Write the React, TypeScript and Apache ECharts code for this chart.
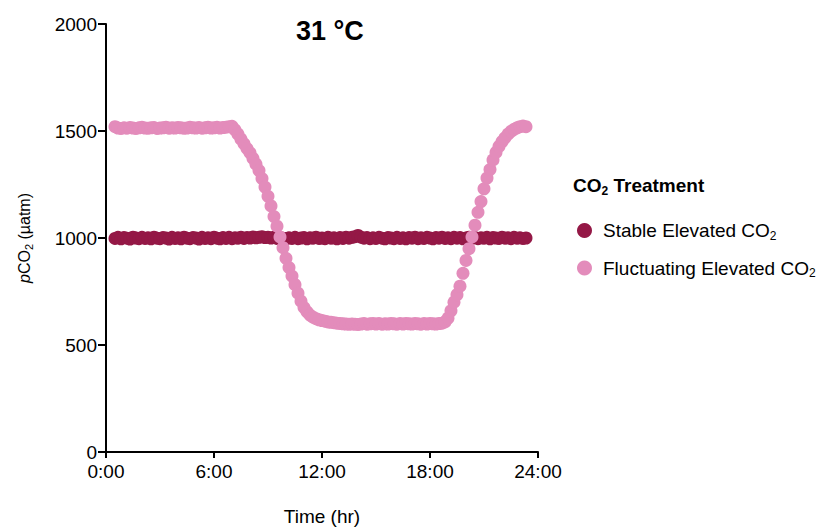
import React, { useEffect, useRef } from "react";
import * as echarts from "echarts";

// Sampling times in minutes after 0:00 (10-min logging)
const minutes: number[] = [
  30, 40, 50,
  60, 70, 80, 90, 100, 110,
  120, 130, 140, 150, 160, 170,
  180, 190, 200, 210, 220, 230,
  240, 250, 260, 270, 280, 290,
  300, 310, 320, 330, 340, 350,
  360, 370, 380, 390, 400, 410,
  420, 430, 440, 450, 460, 470,
  480, 490, 500, 510, 520, 530,
  540, 550, 560, 570, 580, 590,
  600, 610, 620, 630, 640, 650,
  660, 670, 680, 690, 700, 710,
  720, 730, 740, 750, 760, 770,
  780, 790, 800, 810, 820, 830,
  840, 850, 860, 870, 880, 890,
  900, 910, 920, 930, 940, 950,
  960, 970, 980, 990, 1000, 1010,
  1020, 1030, 1040, 1050, 1060, 1070,
  1080, 1090, 1100, 1110, 1120, 1130,
  1140, 1150, 1160, 1170, 1180, 1190,
  1200, 1210, 1220, 1230, 1240, 1250,
  1260, 1270, 1280, 1290, 1300, 1310,
  1320, 1330, 1340, 1350, 1360, 1370,
  1380, 1390, 1400,
];

const stableCO2: number[] = [
  998, 1003, 996,
  1002, 999, 995, 1004, 1000, 997,
  1003, 998, 1001, 996, 1004, 999,
  997, 1002, 1000, 995, 1003, 998,
  1001, 996, 1004, 999, 997, 1002,
  1000, 995, 1003, 998, 1001, 997,
  1004, 999, 996, 1002, 998, 1003,
  997, 1001, 999, 1004, 998, 1002,
  1000, 1005, 1001, 1003, 1006, 1002,
  1004, 1000, 1003, 998, 1002, 999,
  996, 1001, 998, 1003, 997, 1000,
  1002, 996, 1001, 999, 1004, 998,
  1000, 997, 1003, 999, 1001, 996,
  1002, 998, 1004, 999, 1003, 1006,
  1012, 1004, 999, 1002, 997, 1001,
  998, 1003, 999, 996, 1002, 1000,
  997, 1003, 998, 1001, 996, 1002,
  999, 1004, 997, 1001, 998, 1003,
  1000, 996, 1002, 999, 1004, 998,
  1001, 997, 1003, 999, 1002, 996,
  1000, 1004, 998, 1002, 997, 1001,
  999, 1003, 996, 1002, 1000, 998,
  1004, 999, 1001, 997, 1003, 999,
  1001, 998, 1000,
];

const fluctuatingCO2: number[] = [
  1520, 1514, 1512,
  1515, 1513, 1516, 1514, 1512, 1515,
  1517, 1514, 1513, 1515, 1516, 1512,
  1514, 1515, 1518, 1513, 1515, 1514,
  1516, 1515, 1513, 1514, 1517, 1515,
  1514, 1516, 1513, 1515, 1518, 1514,
  1515, 1517, 1514, 1516, 1518, 1520,
  1522, 1505, 1485, 1462, 1440, 1418,
  1398, 1372, 1345, 1315, 1278, 1238,
  1195, 1150, 1100, 1055, 1005, 955,
  905, 862, 822, 782, 742, 705,
  675, 655, 640, 630, 623, 618,
  614, 611, 608, 606, 604, 602,
  601, 599, 598, 597, 598, 597,
  596, 598, 600, 597, 599, 601,
  598, 600, 597, 599, 598, 601,
  599, 597, 600, 598, 601, 599,
  598, 600, 599, 597, 600, 598,
  601, 599, 598, 600, 602, 608,
  625, 660, 700, 735, 775, 835,
  895, 950, 1005, 1060, 1120, 1170,
  1230, 1280, 1320, 1365, 1400, 1428,
  1450, 1468, 1485, 1498, 1508, 1515,
  1520, 1523, 1520,
];

const xTicks: number[] = [0, 6, 12, 18, 24];
const yTicks: number[] = [0, 500, 1000, 1500, 2000];

const seriesNames = ["Stable Elevated CO2", "Fluctuating Elevated CO2"];
const colors = ["#941846", "#E38CBB"];

export default function App() {
  const ref = useRef<HTMLDivElement>(null);
  useEffect(() => {
    if (!ref.current) return;
    const chart = echarts.init(ref.current, undefined, { renderer: "svg" });
    const font = "'Liberation Sans', Arial, sans-serif";
    chart.setOption({
      animation: false,
      textStyle: { fontFamily: font },
      grid: { left: 106, right: 285, top: 24, bottom: 79, containLabel: false, outerBoundsMode: "none" },
      xAxis: {
        type: "value",
        min: xTicks[0],
        max: xTicks[xTicks.length - 1],
        interval: 6,
        name: "Time (hr)",
        nameLocation: "middle",
        nameGap: 55,
        nameTextStyle: { color: "#000", fontSize: 19, fontFamily: font },
        axisLine: { lineStyle: { color: "#000", width: 2 } },
        axisTick: { lineStyle: { color: "#000", width: 2 }, length: 6 },
        axisLabel: {
          color: "#000",
          fontSize: 19,
          fontFamily: font,
          margin: 10,
          formatter: (v: number) => `${v}:00`,
        },
        splitLine: { show: false },
      },
      yAxis: {
        type: "value",
        min: yTicks[0],
        max: yTicks[yTicks.length - 1],
        interval: 500,
        name: "{i|p}CO{s|2} (µatm)",
        nameLocation: "middle",
        nameGap: 72,
        nameRotate: 90,
        nameTextStyle: {
          color: "#000",
          fontSize: 16,
          fontFamily: font,
          rich: {
            i: { fontStyle: "italic", fontSize: 16, fontFamily: font, color: "#000" },
            s: { fontSize: 11, fontFamily: font, color: "#000", padding: [8, 0, 0, 0] },
          },
        },
        axisLine: { show: true, lineStyle: { color: "#000", width: 2 } },
        axisTick: { show: true, lineStyle: { color: "#000", width: 2 }, length: 8 },
        axisLabel: { color: "#000", fontSize: 19, fontFamily: font, margin: 9, formatter: (v: number) => String(v) },
        splitLine: { show: false },
      },
      legend: {
        orient: "vertical",
        left: 572,
        top: 216,
        itemWidth: 15,
        itemHeight: 15,
        itemGap: 17,
        icon: "circle",
        data: seriesNames,
        formatter: (name: string) => name.replace("CO2", "CO{s|2}"),
        textStyle: {
          color: "#000",
          fontSize: 19,
          fontFamily: font,
          padding: [0, 0, 0, 6],
          rich: {
            s: { fontSize: 12, fontFamily: font, color: "#000", padding: [10, 0, 0, 0] },
          },
        },
      },
      graphic: [
        {
          type: "text",
          left: 296,
          top: 17,
          style: { text: "31 °C", fontSize: 27, fontWeight: "bold", fill: "#000", fontFamily: font },
        },
        {
          type: "text",
          left: 573,
          top: 176,
          style: {
            text: "CO{s|2} Treatment",
            fontSize: 19,
            fontWeight: "bold",
            fill: "#000",
            fontFamily: font,
            rich: {
              s: { fontSize: 12, fontWeight: "bold", fontFamily: font, fill: "#000", padding: [10, 0, 0, 0] },
            },
          },
        },
      ],
      series: [
        {
          name: seriesNames[0],
          type: "scatter",
          symbol: "circle",
          symbolSize: 13,
          itemStyle: { color: colors[0], opacity: 1 },
          data: minutes.map((m, i) => [m / 60, stableCO2[i]]),
        },
        {
          name: seriesNames[1],
          type: "scatter",
          symbol: "circle",
          symbolSize: 13,
          itemStyle: { color: colors[1], opacity: 1 },
          data: minutes.map((m, i) => [m / 60, fluctuatingCO2[i]]),
        },
      ],
    });
    return () => chart.dispose();
  }, []);
  return <div ref={ref} style={{ width: 823, height: 531, position: "absolute", left: 0, top: 0 }} />;
}
